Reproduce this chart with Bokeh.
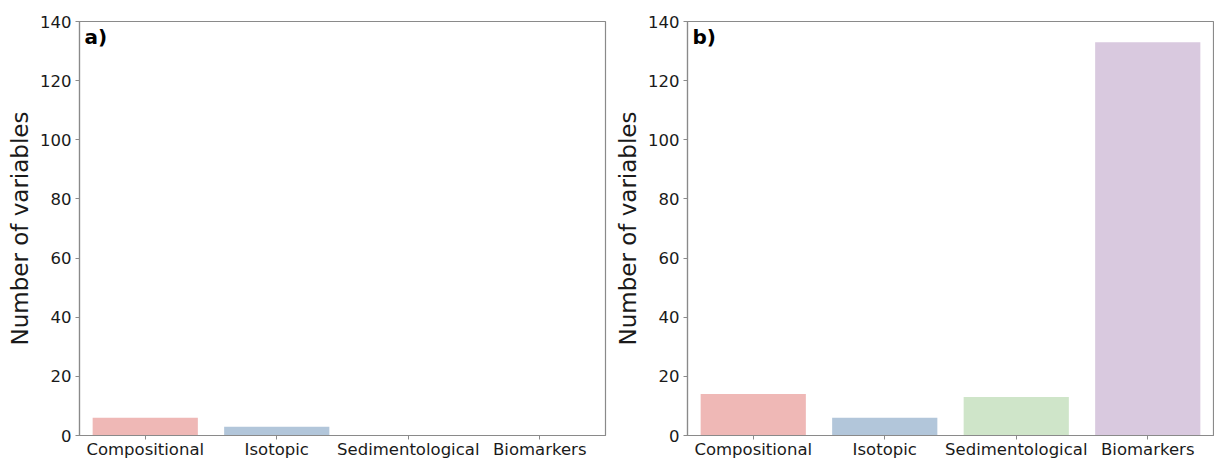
from bokeh.plotting import figure
from bokeh.layouts import row
from bokeh.models import ColumnDataSource, Label, FixedTicker
from bokeh.embed import file_html
from bokeh.resources import INLINE

categories = ["Compositional", "Isotopic", "Sedimentological", "Biomarkers"]
values_a = [6, 3, 0, 0]
values_b = [14, 6, 13, 133]
colors = ["#efb8b6", "#b2c6da", "#cfe5c9", "#d9c9df"]
y_ticks = [0, 20, 40, 60, 80, 100, 120, 140]

FONT = "DejaVu Sans"
SPINE = "#8a8a8a"
TXT = "#1a1a1a"


def make_panel(values, tag, width, bl, br):
    p = figure(x_range=categories, y_range=(0, 140), width=width, height=461,
               output_backend="svg", toolbar_location=None,
               min_border_left=bl, min_border_right=br,
               min_border_top=21, min_border_bottom=20)
    p.x_range.range_padding = 0
    src = ColumnDataSource(dict(cat=categories, val=values, col=colors))
    p.vbar(x="cat", top="val", width=0.8, bottom=0, source=src,
           fill_color="col", line_color=None)
    p.grid.visible = False
    p.outline_line_color = SPINE
    p.outline_line_width = 1.2
    p.background_fill_color = "white"
    p.border_fill_color = "white"
    for ax in (p.xaxis[0], p.yaxis[0]):
        ax.axis_line_color = SPINE
        ax.axis_line_width = 1.2
        ax.major_tick_line_color = SPINE
        ax.major_tick_in = 0
        ax.major_tick_out = 4
        ax.minor_tick_line_color = None
        ax.major_label_text_font = FONT
        ax.major_label_text_font_size = "16.5px"
        ax.major_label_text_color = TXT
    p.xaxis.major_label_standoff = 0
    p.yaxis.major_label_standoff = 4
    p.yaxis.ticker = FixedTicker(ticks=y_ticks)
    p.yaxis.axis_label = "Number of variables"
    p.yaxis.axis_label_text_font = FONT
    p.yaxis.axis_label_text_font_size = "23px"
    p.yaxis.axis_label_text_font_style = "normal"
    p.yaxis.axis_label_text_color = TXT
    p.yaxis.axis_label_standoff = 4
    lab = Label(x=0, y=140, text=tag, x_offset=5, y_offset=-3,
                text_baseline="top", text_align="left",
                text_font=FONT, text_font_size="20px",
                text_font_style="bold", text_color="black")
    p.add_layout(lab)
    return p


pa = make_panel(values_a, "a)", 612, 79, 7)
pb = make_panel(values_b, "b)", 602, 69, 1)

layout = row(pa, pb)
open("out.html", "w").write(file_html(layout, INLINE))
